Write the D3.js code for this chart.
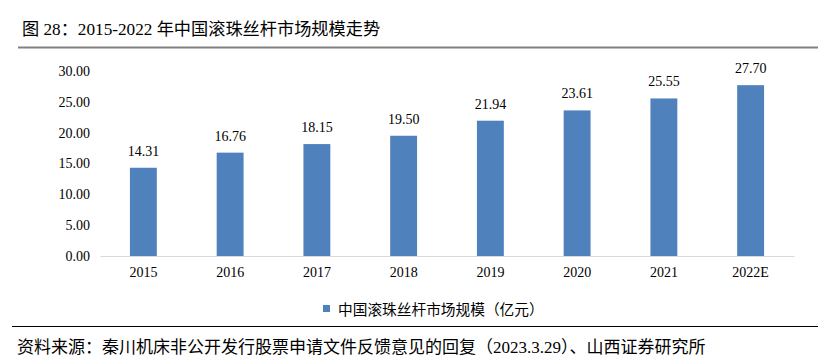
<!DOCTYPE html>
<html>
<head>
<meta charset="utf-8">
<script src="https://cdn.jsdelivr.net/npm/d3@7"></script>
<style>
  body { margin: 0; background: #fff; }
  svg { display: block; }
  .serif { font-family: "Liberation Serif", "Times New Roman", Times, serif; }
  .mixed { font-family: "Liberation Serif", "Times New Roman", "Noto Sans CJK SC", serif; }
  .cjk { font-family: "Noto Sans CJK SC", "Noto Sans", sans-serif; }
</style>
</head>
<body>
<svg id="chart" width="818" height="362"></svg>
<script>
var years = ["2015", "2016", "2017", "2018", "2019", "2020", "2021", "2022E"];
var marketSize = [14.31, 16.76, 18.15, 19.50, 21.94, 23.61, 25.55, 27.70];
var yTicks = [0, 5, 10, 15, 20, 25, 30];
var seriesName = "中国滚珠丝杆市场规模（亿元）";
var titleText = "图 28：2015-2022 年中国滚珠丝杆市场规模走势";
var sourceText = "资料来源：秦川机床非公开发行股票申请文件反馈意见的回复（2023.3.29）、山西证券研究所";

var svg = d3.select("#chart");
var barColor = "#4f81bd";

// title + rule
svg.append("text")
  .attr("class", "mixed")
  .attr("x", 22).attr("y", 35)
  .attr("font-size", 17.2).attr("fill", "#000")
  .text(titleText);
svg.append("line")
  .attr("x1", 18).attr("x2", 818).attr("y1", 47.5).attr("y2", 47.5)
  .attr("stroke", "#808080").attr("stroke-width", 2);

var x = d3.scaleBand().domain(years).range([100, 794]).paddingInner(0.69).paddingOuter(0.345);
var y = d3.scaleLinear().domain([0, 30]).range([256, 71]);

// y axis labels
var yAxis = svg.append("g").attr("transform", "translate(90,0)")
  .call(d3.axisLeft(y).tickValues(yTicks).tickSize(0).tickPadding(0).tickFormat(d3.format(".2f")));
yAxis.select(".domain").remove();
yAxis.selectAll("text").attr("class", "serif").attr("font-size", 14).attr("fill", "#000");

// bars
svg.selectAll("rect.bar").data(marketSize).enter().append("rect")
  .attr("class", "bar")
  .attr("x", function(d, i){ return x(years[i]); })
  .attr("y", function(d){ return y(d); })
  .attr("width", x.bandwidth())
  .attr("height", function(d){ return y(0) - y(d); })
  .attr("fill", barColor);

// value labels
svg.selectAll("text.val").data(marketSize).enter().append("text")
  .attr("class", "val serif")
  .attr("x", function(d, i){ return x(years[i]) + x.bandwidth() / 2; })
  .attr("y", function(d){ return y(d) - 12; })
  .attr("text-anchor", "middle")
  .attr("font-size", 14).attr("fill", "#000")
  .text(function(d){ return d.toFixed(2); });

// x axis
var xAxis = svg.append("g").attr("transform", "translate(0,256)")
  .call(d3.axisBottom(x).tickSize(0).tickPadding(11).tickSizeOuter(0));
xAxis.select(".domain").attr("stroke", "#d9d9d9").attr("stroke-width", 1);
xAxis.selectAll("text").attr("class", "serif").attr("font-size", 14).attr("fill", "#000");

// legend
var legend = svg.append("g").attr("transform", "translate(323,303)");
legend.append("rect").attr("width", 7).attr("height", 7).attr("y", 2).attr("fill", barColor);
legend.append("text").attr("class", "cjk").attr("x", 15).attr("y", 12)
  .attr("font-size", 14.7).attr("fill", "#000")
  .text(seriesName);

// footer
svg.append("line")
  .attr("x1", 12).attr("x2", 818).attr("y1", 326.5).attr("y2", 326.5)
  .attr("stroke", "#000").attr("stroke-width", 1);
svg.append("text")
  .attr("class", "mixed")
  .attr("x", 17).attr("y", 353)
  .attr("font-size", 17).attr("fill", "#000")
  .text(sourceText);
</script>
</body>
</html>
